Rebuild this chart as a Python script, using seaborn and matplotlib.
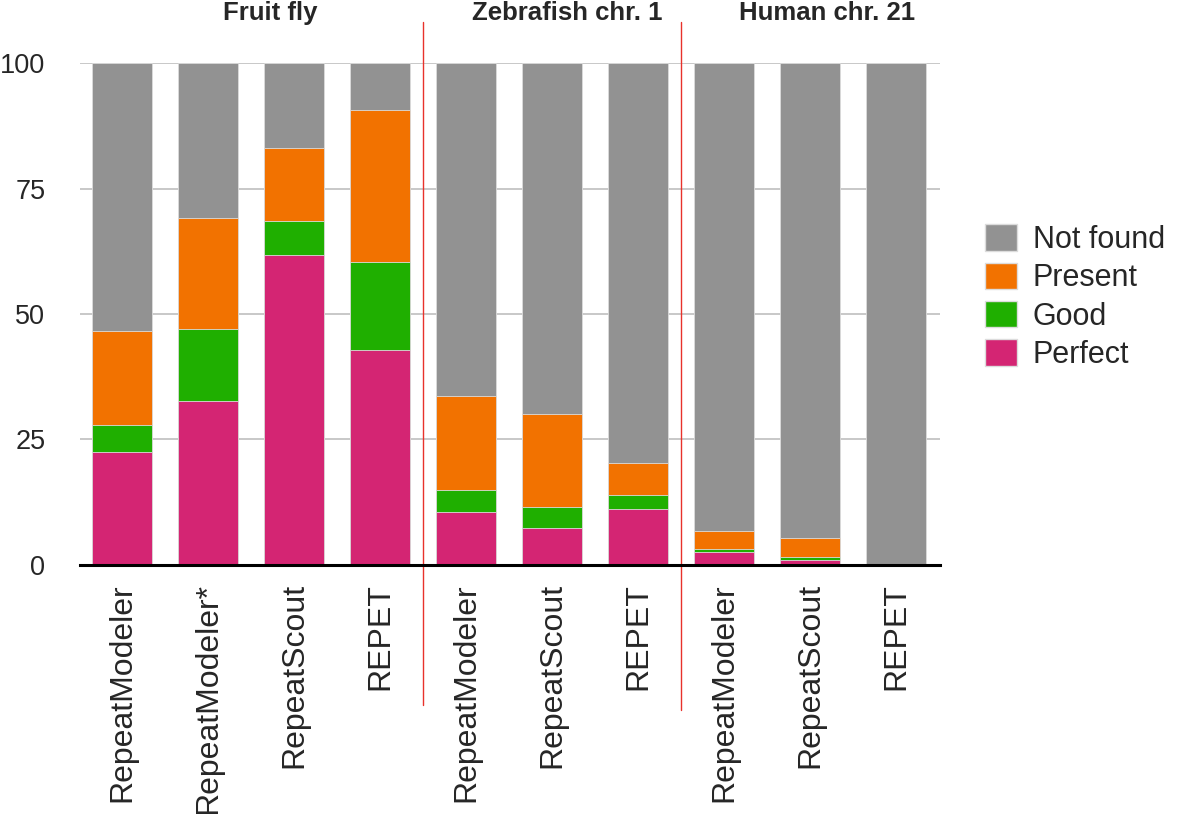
import numpy as np
import pandas as pd
import matplotlib
matplotlib.use('Agg')
import matplotlib.pyplot as plt
from matplotlib.patches import Patch
import seaborn as sns

# Values (percent of families per category)
tools = ['RepeatModeler', 'RepeatModeler*', 'RepeatScout', 'REPET',
         'RepeatModeler', 'RepeatScout', 'REPET',
         'RepeatModeler', 'RepeatScout', 'REPET']
perfect = [22.5, 32.7, 61.8, 42.8, 10.6, 7.4, 11.2, 2.6, 0.9, 0.0]
good = [5.3, 14.3, 6.7, 17.6, 4.3, 4.2, 2.7, 0.5, 0.6, 0.0]
present = [18.9, 22.1, 14.6, 30.2, 18.8, 18.4, 6.5, 3.7, 3.8, 0.0]
groups = ['Fruit fly', 'Zebrafish chr. 1', 'Human chr. 21']
group_x = [1.72, 5.17, 8.2]
categories = ['Not found', 'Present', 'Good', 'Perfect']
colors = {'Not found': '#929292', 'Present': '#f27200',
          'Good': '#1faf00', 'Perfect': '#d42573'}

df = pd.DataFrame({'pos': np.arange(len(tools)), 'tool': tools,
                   'Perfect': perfect, 'Good': good, 'Present': present})
df['Not found'] = 100 - df['Perfect'] - df['Good'] - df['Present']

# cumulative heights for stacking
df['cum_Perfect'] = df['Perfect']
df['cum_Good'] = df['cum_Perfect'] + df['Good']
df['cum_Present'] = df['cum_Good'] + df['Present']
df['cum_Not found'] = df['cum_Present'] + df['Not found']

sns.set_style('white')
plt.rcParams['font.family'] = ['Liberation Sans', 'DejaVu Sans']

fig = plt.figure(figsize=(11.8, 8.14), dpi=100)
ax = fig.add_axes([0.0678, 0.3059, 0.7288, 0.6167])

# draw tallest layer first so lower layers sit on top
for cat in categories:
    sns.barplot(data=df, x='pos', y='cum_' + cat, color=colors[cat],
                saturation=1, errorbar=None, width=0.7, ax=ax,
                edgecolor='#dcdcdc', linewidth=0.6)

ax.set_ylim(0, 100)
ax.set_xlim(-0.49, 9.51)
ax.set_yticks([0, 25, 50, 75, 100])
ax.yaxis.grid(True, color='#c4c4c4', linewidth=1.3)
ax.set_axisbelow(True)
ax.set_xlabel('')
ax.set_ylabel('')
ax.set_xticks(df['pos'])
ax.set_xticklabels(tools, rotation=90, fontsize=23)
ax.tick_params(axis='x', length=0, pad=13)
ax.tick_params(axis='y', length=0, pad=25, labelsize=19.5)

for side in ['left', 'right', 'top']:
    ax.spines[side].set_visible(False)
ax.spines['bottom'].set_color('black')
ax.spines['bottom'].set_linewidth(2.2)

# group separators and titles
ax.plot([3.5, 3.5], [108.2, -27.9], color='#e8322b', lw=1, clip_on=False)
ax.plot([6.5, 6.5], [108.2, -28.9], color='#e8322b', lw=1, clip_on=False)
for gx, g in zip(group_x, groups):
    ax.text(gx, 109.9, g, ha='center', va='center', fontsize=18.5,
            fontweight='bold', clip_on=False)

handles = [Patch(facecolor=colors[c], edgecolor='#dcdcdc', label=c) for c in categories]
fig.legend(handles=handles, loc='center left', bbox_to_anchor=(0.835, 0.635),
           frameon=False, fontsize=22, handlelength=1.05, handleheight=0.95,
           handletextpad=0.5, labelspacing=0.25, borderaxespad=0, borderpad=0)

fig.savefig('out.png', dpi=100)
